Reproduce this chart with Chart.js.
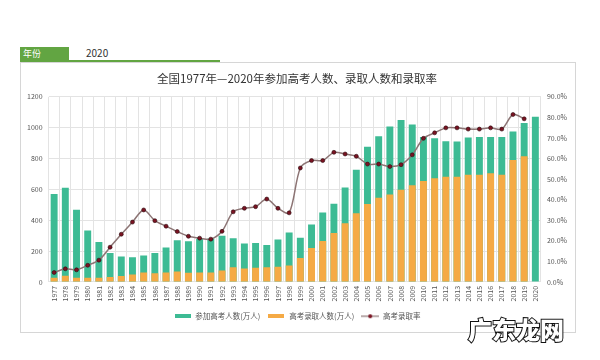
<!DOCTYPE html>
<html>
<head>
<meta charset="utf-8">
<script src="https://cdn.jsdelivr.net/npm/chart.js@4/dist/chart.umd.min.js"></script>
<style>
  html, body { margin: 0; padding: 0; background: #fff; width: 600px; height: 360px; overflow: hidden; font-family: "Noto Sans CJK SC", "Noto Sans", sans-serif; }
  #hdrBox { position: absolute; left: 20px; top: 47px; width: 49px; height: 14px; background: #62a542; color: #fff; font-size: 9px; line-height: 14px; padding-left: 3px; box-sizing: border-box; }
  #hdrYear { position: absolute; left: 86px; top: 46px; font-size: 10px; color: #333; line-height: 14px; }
  #hdrLine { position: absolute; left: 20px; top: 60px; width: 200px; height: 2px; background: #62a542; }
  #frame { position: absolute; left: 20px; top: 62px; width: 556px; height: 271px; border: 1px solid #d6d6d6; box-sizing: border-box; background: #fff; }
  #wrap { position: absolute; left: 0; top: 0; width: 554px; height: 269px; }
  #wm { position: absolute; left: 468px; top: 314px; font-size: 24px; font-weight: 900; color: #fff; -webkit-text-stroke: 2px #111; paint-order: stroke fill; font-family: "Noto Sans CJK SC", sans-serif; line-height: 30px; }
</style>
</head>
<body>
<div id="hdrBox">年份</div>
<div id="hdrYear">2020</div>
<div id="frame"><div id="wrap"><canvas id="c"></canvas></div></div>
<div id="hdrLine"></div>
<div id="wm">广东龙网</div>
<script>
const years = ["1977","1978","1979","1980","1981","1982","1983","1984","1985","1986","1987","1988","1989","1990","1991","1992","1993","1994","1995","1996","1997","1998","1999","2000","2001","2002","2003","2004","2005","2006","2007","2008","2009","2010","2011","2012","2013","2014","2015","2016","2017","2018","2019","2020"];
const applicants = [570,610,468,333,259,187,165,160,172,188,224,270,264,280,282,300,284,250,252,240,275,320,286,372,450,507,612,728,877,945,1008,1050,1020,940,932,912,910,937,940,940,940,975,1031,1071];
const admitted = [27,40,28,28,28,32,39,48,62,57,62,67,60,61,62,75,96,88,92,96,98,106,156,220,265,318,380,446,505,545,567,598,627,655,672,682,682,695,695,704,695,790,815,null];
const rate = [4.6,6.4,5.9,8.1,10.6,16.9,23.2,29.1,35.0,29.8,27.1,24.5,22.2,21.3,20.8,24.6,34.1,35.8,36.6,40.3,35.8,33.6,55.4,59.0,59.0,63.0,62.2,61.1,57.3,57.3,56.1,57.0,61.8,69.8,72.5,74.9,74.9,74.3,74.3,74.9,74.3,81.4,79.3,null];
const leftTicks = [0,200,400,600,800,1000,1200];
const rightTicks = [0,10,20,30,40,50,60,70,80,90];
const seriesNames = ["参加高考人数(万人)","高考录取人数(万人)","高考录取率"];
const chartTitle = "全国1977年—2020年参加高考人数、录取人数和录取率";

const GREEN = "#3dbb94", ORANGE = "#f5aa45", LINE = "#8c7474", DOT = "#7a1322";

function mkBox(color) {
  const c = document.createElement("canvas"); c.width = 16; c.height = 4;
  const x = c.getContext("2d"); x.fillStyle = color; x.fillRect(0, 0, 16, 4); return c;
}
function mkLine() {
  const c = document.createElement("canvas"); c.width = 18; c.height = 6;
  const x = c.getContext("2d"); x.strokeStyle = LINE; x.lineWidth = 1.2;
  x.beginPath(); x.moveTo(0, 3); x.lineTo(18, 3); x.stroke();
  x.fillStyle = DOT; x.beginPath(); x.arc(9, 3, 2, 0, Math.PI * 2); x.fill();
  return c;
}
const icons = [mkBox(GREEN), mkBox(ORANGE), mkLine()];

const tickFont = { family: "'Noto Sans CJK SC', 'Noto Sans', sans-serif", size: 7 };

new Chart(document.getElementById("c"), {
  data: {
    labels: years,
    datasets: [
      { type: "bar", label: seriesNames[0], data: applicants, backgroundColor: GREEN, yAxisID: "y", grouped: false, order: 3, barPercentage: 0.62, categoryPercentage: 1 },
      { type: "bar", label: seriesNames[1], data: admitted, backgroundColor: ORANGE, yAxisID: "y", grouped: false, order: 2, barPercentage: 0.62, categoryPercentage: 1 },
      { type: "line", label: seriesNames[2], data: rate, yAxisID: "y1", order: 1, borderColor: LINE, borderWidth: 1.5, tension: 0.3,
        pointRadius: 2, pointBackgroundColor: DOT, pointBorderColor: "#2a0a0e", pointBorderWidth: 0.6 }
    ]
  },
  options: {
    responsive: true, maintainAspectRatio: false, animation: false,
    layout: { padding: { left: 0, right: 2, top: 7, bottom: 2 } },
    plugins: {
      title: { display: true, text: chartTitle, color: "#333", font: { family: "'Noto Sans CJK SC', sans-serif", size: 11.5, weight: "normal" }, padding: { top: 2, bottom: 11 } },
      legend: {
        position: "bottom",
        labels: {
          usePointStyle: true, pointStyleWidth: 18, boxHeight: 7, padding: 7, color: "#555",
          font: { family: "'Noto Sans CJK SC', sans-serif", size: 7.5 },
          generateLabels: (chart) => chart.data.datasets.map((d, i) => ({
            text: d.label, pointStyle: icons[i], datasetIndex: i, fillStyle: "transparent", strokeStyle: "transparent", lineWidth: 0, fontColor: "#555", hidden: false
          }))
        }
      },
      tooltip: { enabled: false }
    },
    scales: {
      x: {
        grid: { color: "#e3e3e3", offset: true, drawTicks: false },
        border: { display: false },
        ticks: { color: "#555", font: tickFont, maxRotation: 90, minRotation: 90, autoSkip: false, padding: 4 }
      },
      y: {
        position: "left", min: 0, max: 1200,
        afterBuildTicks: (ax) => { ax.ticks = leftTicks.map(v => ({ value: v })); },
        grid: { color: "#e3e3e3", drawTicks: false },
        border: { display: false },
        ticks: { color: "#555", font: tickFont, padding: 6, callback: (v) => String(v) }
      },
      y1: {
        position: "right", min: 0, max: 90,
        afterBuildTicks: (ax) => { ax.ticks = rightTicks.map(v => ({ value: v })); },
        grid: { display: false, drawTicks: false },
        border: { display: false },
        ticks: { color: "#555", font: tickFont, padding: 6, callback: (v) => v.toFixed(1) + "%" }
      }
    }
  }
});
</script>
</body>
</html>
